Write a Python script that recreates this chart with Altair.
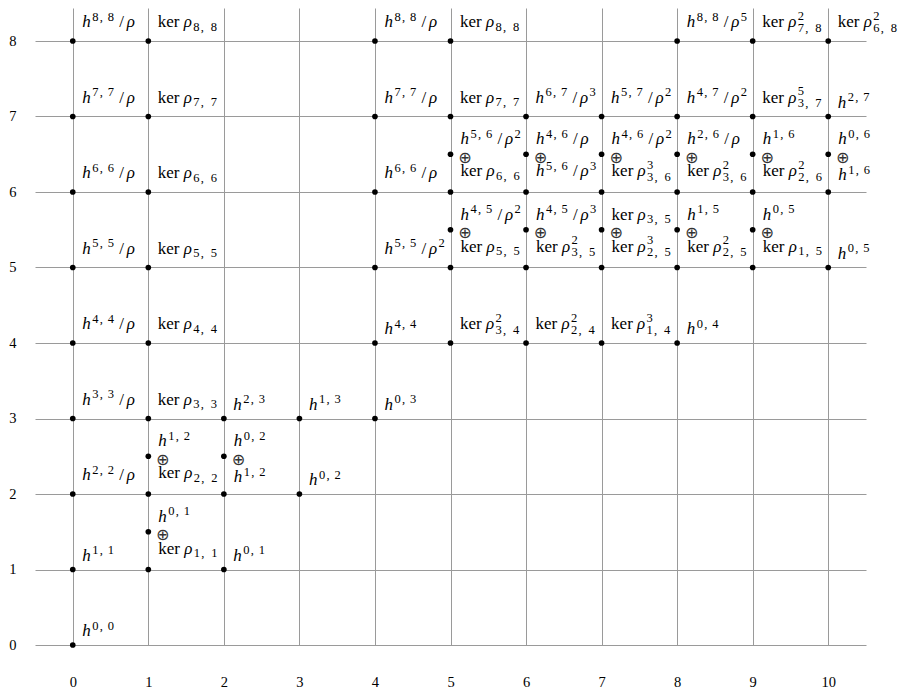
import altair as alt
import pandas as pd

# ---------------- data ----------------
x_ticks = list(range(0, 11))
y_ticks = list(range(0, 9))

single_x = [0, 0, 0, 0, 0, 0, 0, 0, 0,
            1, 1, 1, 1, 1, 1,
            2, 2, 3, 3,
            4, 4, 4, 4, 4, 4,
            5, 5, 5,
            6, 6,
            7, 7,
            8, 8, 8,
            9, 9,
            10, 10, 10]
single_y = [0, 1, 2, 3, 4, 5, 6, 7, 8,
            3, 4, 5, 6, 7, 8,
            1, 3, 2, 3,
            3, 4, 5, 6, 7, 8,
            4, 7, 8,
            4, 7,
            4, 7,
            4, 7, 8,
            7, 8,
            5, 7, 8]
single_lab = ["h^{0,0}", "h^{1,1}", "h^{2,2}/\\rho", "h^{3,3}/\\rho", "h^{4,4}/\\rho",
              "h^{5,5}/\\rho", "h^{6,6}/\\rho", "h^{7,7}/\\rho", "h^{8,8}/\\rho",
              "\\ker \\rho_{3,3}", "\\ker \\rho_{4,4}", "\\ker \\rho_{5,5}",
              "\\ker \\rho_{6,6}", "\\ker \\rho_{7,7}", "\\ker \\rho_{8,8}",
              "h^{0,1}", "h^{2,3}", "h^{0,2}", "h^{1,3}",
              "h^{0,3}", "h^{4,4}", "h^{5,5}/\\rho^{2}", "h^{6,6}/\\rho", "h^{7,7}/\\rho", "h^{8,8}/\\rho",
              "\\ker \\rho^{2}_{3,4}", "\\ker \\rho_{7,7}", "\\ker \\rho_{8,8}",
              "\\ker \\rho^{2}_{2,4}", "h^{6,7}/\\rho^{3}",
              "\\ker \\rho^{3}_{1,4}", "h^{5,7}/\\rho^{2}",
              "h^{0,4}", "h^{4,7}/\\rho^{2}", "h^{8,8}/\\rho^{5}",
              "\\ker \\rho^{5}_{3,7}", "\\ker \\rho^{2}_{7,8}",
              "h^{0,5}", "h^{2,7}", "\\ker \\rho^{2}_{6,8}"]

stack_x = [1, 1, 2, 5, 5, 6, 6, 7, 7, 8, 8, 9, 9, 10]
stack_y = [1.5, 2.5, 2.5, 5.5, 6.5, 5.5, 6.5, 5.5, 6.5, 5.5, 6.5, 5.5, 6.5, 6.5]
stack_top = ["h^{0,1}", "h^{1,2}", "h^{0,2}",
             "h^{4,5}/\\rho^{2}", "h^{5,6}/\\rho^{2}",
             "h^{4,5}/\\rho^{3}", "h^{4,6}/\\rho",
             "\\ker \\rho_{3,5}", "h^{4,6}/\\rho^{2}",
             "h^{1,5}", "h^{2,6}/\\rho",
             "h^{0,5}", "h^{1,6}",
             "h^{0,6}"]
stack_bot = ["\\ker \\rho_{1,1}", "\\ker \\rho_{2,2}", "h^{1,2}",
             "\\ker \\rho_{5,5}", "\\ker \\rho_{6,6}",
             "\\ker \\rho^{2}_{3,5}", "h^{5,6}/\\rho^{3}",
             "\\ker \\rho^{3}_{2,5}", "\\ker \\rho^{3}_{3,6}",
             "\\ker \\rho^{2}_{2,5}", "\\ker \\rho^{2}_{3,6}",
             "\\ker \\rho_{1,5}", "\\ker \\rho^{2}_{2,6}",
             "h^{1,6}"]

# ---------------- geometry ----------------
W, H = 831, 637
XDOM = [-0.5, 10.5]
PX = W / (XDOM[1] - XDOM[0])
PY = 75.5
YDOM = [0, H / PY]

S_MAIN = 17
S_SCR = 12.5
ADV = {"h": 10.0, "rho": 9.5, "ker": 21.5, "ker_gap": 4.5, "slash": 10.0}
SUP_D, SUP_C = 7.5, 8.0
SUB_D, SUB_C = 7.5, 10.0


def layout(label):
    toks = []
    x = 0.0
    i = 0
    n = len(label)
    while i < n:
        if label.startswith("\\ker", i):
            toks.append(("rm", "ker", x, 0.0))
            x += ADV["ker"] + ADV["ker_gap"]
            i += 4
        elif label.startswith("\\rho", i):
            toks.append(("it", "ρ", x, 0.0))
            x += ADV["rho"]
            i += 4
        elif label[i] == "h":
            toks.append(("it", "h", x, 0.0))
            x += ADV["h"]
            i += 1
        elif label[i] == "/":
            toks.append(("rm", "/", x + 2.5, 0.0))
            x += ADV["slash"]
            i += 1
        elif label[i] in "^_":
            groups = {}
            while i < n and label[i] in "^_":
                kind = label[i]
                j = label.index("}", i)
                groups[kind] = label[i + 2:j]
                i = j + 1
            both = len(groups) == 2
            w = 0.0
            for kind, body in groups.items():
                if kind == "^":
                    d, c = SUP_D, SUP_C
                    dy = -7.5 if both else -6.5
                else:
                    d, c = SUB_D, SUB_C
                    dy = 4.5 if both else 3.5
                cx = x
                for ch in body:
                    toks.append(("sc", ch, cx, dy))
                    cx += c if ch == "," else d
                w = max(w, cx - x)
            x += w + 1.5
        else:
            i += 1
    return toks


def has_desc(label):
    return ("\\rho" in label) or ("/" in label)


rows = []


def add_label(X, Y, label, dx0, dy0):
    for kind, t, dx, dy in layout(label):
        rows.append({"x": X + (dx0 + dx) / PX, "y": Y - (dy0 + dy) / PY, "t": t, "k": kind})


for X, Y, lab in zip(single_x, single_y, single_lab):
    add_label(X, Y, lab, 9.5, -14.0 if has_desc(lab) else -9.0)

for X, Y, top, bot in zip(stack_x, stack_y, stack_top, stack_bot):
    add_label(X, Y, top, 10.0, -10.0)
    rows.append({"x": X + 14.5 / PX, "y": Y - 3.5 / PY, "t": "⊕", "k": "op"})
    add_label(X, Y, bot, 10.0, 22.0 if has_desc(bot) else 26.0)

tokens = pd.DataFrame(rows)

# dots: every labelled point plus the lattice points bracketing each stacked entry
dot_set = set(zip(single_x, single_y))
for X, Y in zip(stack_x, stack_y):
    dot_set.add((X, Y))
    dot_set.add((X, Y - 0.5))
    dot_set.add((X, Y + 0.5))
dots = pd.DataFrame(sorted(dot_set), columns=["x", "y"])

# ---------------- chart ----------------
xscale = alt.Scale(domain=XDOM, nice=False, zero=False)
yscale = alt.Scale(domain=YDOM, nice=False, zero=False)
xaxis = alt.Axis(values=x_ticks, grid=True, gridColor="#9a9a9a", gridWidth=1,
                 domain=False, ticks=False, tickSize=0, labelPadding=30,
                 labelFont="Liberation Serif", labelFontSize=14.5, labelColor="black",
                 labelFlush=False, labelOverlap=False, title=None, format="d")
yaxis = alt.Axis(values=y_ticks, grid=True, gridColor="#9a9a9a", gridWidth=1,
                 domain=False, ticks=False, tickSize=0, labelPadding=19,
                 labelFont="Liberation Serif", labelFontSize=14.5, labelColor="black",
                 labelFlush=False, labelOverlap=False, title=None, format="d")

X_ENC = alt.X("x:Q", scale=xscale, axis=xaxis)
Y_ENC = alt.Y("y:Q", scale=yscale, axis=yaxis)

dot_layer = alt.Chart(dots).mark_circle(size=32, color="black", opacity=1).encode(x=X_ENC, y=Y_ENC)

base = alt.Chart(tokens)
it_layer = base.transform_filter("datum.k == 'it'").mark_text(
    font="Liberation Serif", fontStyle="italic", fontSize=S_MAIN, align="left",
    baseline="alphabetic", color="black").encode(x=X_ENC, y=Y_ENC, text="t:N")
rm_layer = base.transform_filter("datum.k == 'rm'").mark_text(
    font="Liberation Serif", fontSize=S_MAIN, align="left",
    baseline="alphabetic", color="black").encode(x=X_ENC, y=Y_ENC, text="t:N")
sc_layer = base.transform_filter("datum.k == 'sc'").mark_text(
    font="Liberation Serif", fontSize=S_SCR, align="left",
    baseline="alphabetic", color="black").encode(x=X_ENC, y=Y_ENC, text="t:N")
op_layer = base.transform_filter("datum.k == 'op'").mark_text(
    font="DejaVu Sans", fontSize=16, align="center",
    baseline="middle", color="#333333").encode(x=X_ENC, y=Y_ENC, text="t:N")

chart = alt.layer(dot_layer, it_layer, rm_layer, sc_layer, op_layer).properties(
    width=W, height=H,
    autosize=alt.AutoSizeParams(type="none"),
    padding={"left": 27, "top": 0, "right": 33, "bottom": 43},
).configure_view(strokeWidth=0)

chart.save("out.html", embed_options={"renderer": "svg", "actions": False})
